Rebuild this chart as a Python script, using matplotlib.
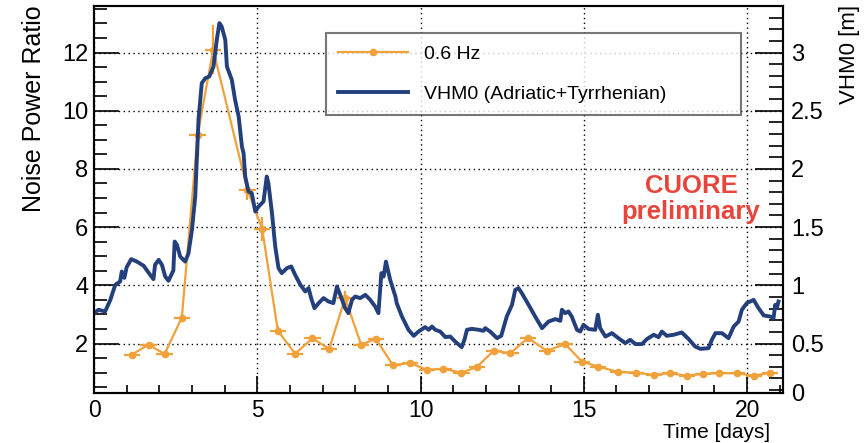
import matplotlib.pyplot as plt
from matplotlib.lines import Line2D
from matplotlib.ticker import MultipleLocator

plt.rcParams['font.family'] = ['Liberation Sans', 'DejaVu Sans']

# 0.6 Hz noise power ratio, one point per ~half-day bin
ratio_days = [1.16, 1.67, 2.16, 2.69, 3.17, 3.65, 4.70, 5.15, 5.63, 6.16,
              6.69, 7.20, 7.69, 8.18, 8.63, 9.15, 9.68, 10.19, 10.70, 11.25,
              11.72, 12.24, 12.75, 13.29, 13.87, 14.43, 14.94, 15.43, 16.06, 16.60,
              17.14, 17.64, 18.15, 18.64, 19.15, 19.69, 20.22, 20.71]
ratio_vals = [1.62, 1.96, 1.64, 2.89, 9.15, 12.1, 7.28, 5.94, 2.44, 1.65,
              2.18, 1.81, 3.56, 1.96, 2.16, 1.26, 1.33, 1.10, 1.13, 1.00,
              1.19, 1.75, 1.67, 2.19, 1.75, 1.98, 1.38, 1.21, 1.02, 1.00,
              0.92, 0.98, 0.89, 0.96, 0.98, 0.98, 0.89, 1.00]
ratio_yerr = [0.08, 0.08, 0.08, 0.12, 0.7, 0.85, 0.35, 0.4, 0.15, 0.08,
              0.08, 0.08, 0.25, 0.08, 0.08] + [0.05] * 23
ratio_xerr = 0.25

# significant wave height VHM0, Adriatic + Tyrrhenian [m]
vhm0_days = [0.0, 0.14, 0.34, 0.50, 0.65, 0.80, 0.85, 0.93, 1.00, 1.14,
             1.31, 1.52, 1.72, 1.82, 1.87, 1.98, 2.08, 2.18, 2.28, 2.43,
             2.47, 2.54, 2.64, 2.79, 2.89, 3.00, 3.10, 3.20, 3.30, 3.41,
             3.53, 3.66, 3.76, 3.84, 3.91, 4.02, 4.07, 4.22, 4.32, 4.43,
             4.53, 4.58, 4.63, 4.73, 4.83, 4.94, 5.04, 5.19, 5.29, 5.34,
             5.45, 5.55, 5.65, 5.75, 5.91, 6.04, 6.16, 6.32, 6.47, 6.57,
             6.65, 6.75, 6.88, 7.03, 7.18, 7.33, 7.44, 7.54, 7.69, 7.79,
             7.90, 8.00, 8.15, 8.31, 8.46, 8.61, 8.71, 8.80, 8.87, 8.94,
             9.07, 9.23, 9.27, 9.43, 9.63, 9.79, 9.94, 10.14, 10.25, 10.35,
             10.45, 10.60, 10.76, 10.91, 11.06, 11.26, 11.35, 11.42, 11.57, 11.78,
             11.93, 11.98, 12.13, 12.34, 12.47, 12.64, 12.80, 12.90, 13.00, 13.10,
             13.31, 13.51, 13.72, 13.92, 14.13, 14.28, 14.33, 14.43, 14.53, 14.63,
             14.79, 14.89, 14.99, 15.15, 15.35, 15.43, 15.50, 15.66, 15.86, 16.06,
             16.27, 16.42, 16.58, 16.78, 16.93, 17.14, 17.29, 17.39, 17.54, 17.75,
             18.00, 18.21, 18.41, 18.57, 18.82, 18.92, 19.03, 19.23, 19.43, 19.59,
             19.74, 19.84, 19.99, 20.20, 20.35, 20.51, 20.71, 20.81, 20.86, 20.91,
             20.96]
vhm0_m = [0.761, 0.790, 0.775, 0.875, 1.004, 1.033, 1.119, 1.064, 1.156, 1.225,
          1.204, 1.168, 1.090, 1.053, 1.176, 1.219, 1.176, 1.076, 1.039, 1.127,
          1.376, 1.348, 1.247, 1.204, 1.271, 1.477, 1.763, 2.422, 2.737, 2.780,
          2.794, 2.880, 3.109, 3.253, 3.223, 3.109, 2.880, 2.765, 2.594, 2.450,
          2.192, 2.136, 1.935, 1.806, 1.792, 1.634, 1.677, 1.720, 1.935, 1.878,
          1.620, 1.333, 1.148, 1.105, 1.148, 1.162, 1.090, 1.004, 0.947, 0.976,
          0.890, 0.804, 0.847, 0.890, 0.861, 0.847, 0.990, 0.918, 0.804, 0.761,
          0.875, 0.904, 0.890, 0.918, 0.875, 0.818, 0.761, 1.105, 1.076, 1.204,
          1.047, 0.904, 0.847, 0.732, 0.618, 0.566, 0.603, 0.641, 0.618, 0.646,
          0.618, 0.603, 0.555, 0.560, 0.517, 0.469, 0.538, 0.618, 0.626, 0.618,
          0.609, 0.632, 0.603, 0.546, 0.566, 0.732, 0.832, 0.961, 0.976, 0.933,
          0.832, 0.732, 0.632, 0.689, 0.710, 0.695, 0.790, 0.761, 0.775, 0.732,
          0.618, 0.603, 0.661, 0.624, 0.618, 0.747, 0.632, 0.560, 0.589, 0.546,
          0.503, 0.532, 0.495, 0.495, 0.538, 0.575, 0.555, 0.603, 0.566, 0.575,
          0.595, 0.538, 0.474, 0.454, 0.460, 0.532, 0.589, 0.589, 0.546, 0.646,
          0.689, 0.790, 0.847, 0.875, 0.804, 0.741, 0.732, 0.718, 0.832, 0.804,
          0.861]

x_ticks = [0, 5, 10, 15, 20]
ratio_ticks = [2, 4, 6, 8, 10, 12]
vhm0_ticks = [0.5, 1, 1.5, 2, 2.5, 3]

orange = '#f0a13a'
navy = '#233f7c'
red = '#e8463c'

fig = plt.figure(figsize=(8.68, 4.43), dpi=100)
ax = fig.add_axes([0.1083, 0.1129, 0.7938, 0.8736])

ax.errorbar(ratio_days, ratio_vals, xerr=ratio_xerr, yerr=ratio_yerr,
            color=orange, marker='o', ms=4.5, lw=1.6, elinewidth=1.6, capsize=0)

ax.set_xlim(0, 21.1)
ax.set_ylim(0.3, 13.6)
ax.set_xticks(x_ticks)
ax.set_xticklabels([str(t) for t in x_ticks])
ax.xaxis.set_minor_locator(MultipleLocator(1))
ax.set_yticks(ratio_ticks)
ax.set_yticklabels([str(t) for t in ratio_ticks])
ax.yaxis.set_minor_locator(MultipleLocator(0.5))
ax.grid(True, which='major', color='black', linestyle=(0, (1, 2.5)), linewidth=1.0)
ax.tick_params(axis='both', which='both', direction='in', labelsize=17, width=1.2)
ax.tick_params(axis='y', which='major', length=18, pad=4)
ax.tick_params(axis='y', which='minor', length=9)
ax.tick_params(axis='x', which='major', length=12, pad=4, labelsize=16.5)
ax.tick_params(axis='x', which='minor', length=6)

# right-hand scale: wave height, a quarter of the ratio scale
ax2 = ax.twinx()
ax2.plot(vhm0_days, vhm0_m, color=navy, lw=2.8)
lo, hi = ax.get_ylim()
ax2.set_ylim(lo / 4, hi / 4)
ax2.set_yticks([lo / 4] + vhm0_ticks)
ax2.set_yticklabels(['0'] + ['%g' % t for t in vhm0_ticks])
ax2.yaxis.set_minor_locator(MultipleLocator(0.1))
ax2.tick_params(axis='y', which='both', direction='in', labelsize=17, width=1.2)
ax2.tick_params(axis='y', which='major', length=20, pad=6)
ax2.tick_params(axis='y', which='minor', length=10)

for a in (ax, ax2):
    for s in a.spines.values():
        s.set_linewidth(1.5)

fig.text(34 / 868, 1 - 5 / 443, 'Noise Power Ratio', rotation=90,
         ha='center', va='top', fontsize=18)
fig.text(849 / 868, 1 - 5 / 443, 'VHM0 [m]', rotation=90,
         ha='center', va='top', fontsize=16)
fig.text(770 / 868, 1 - 442 / 443, 'Time [days]', ha='right', va='bottom', fontsize=15)
fig.text(691 / 868, 1 - 199 / 443, 'CUORE\npreliminary', color=red,
         fontsize=18.5, fontweight='bold', ha='center', va='center', linespacing=1.1)

handles = [Line2D([], [], color=orange, lw=1.6, marker='o', ms=4.5),
           Line2D([], [], color=navy, lw=2.8)]
leg = ax2.legend(handles, ['0.6 Hz', 'VHM0 (Adriatic+Tyrrhenian)'],
                 loc='upper left', bbox_to_anchor=(326 / 868, 1 - 33 / 443, 415 / 868, 0),
                 bbox_transform=fig.transFigure, mode='expand', fontsize=14,
                 frameon=True, fancybox=False, edgecolor='#555555',
                 handlelength=3.6, handletextpad=0.8, borderpad=0.62,
                 labelspacing=1.18, borderaxespad=0, numpoints=1)
leg.get_frame().set_linewidth(1.5)

fig.savefig('out.png', dpi=100)
